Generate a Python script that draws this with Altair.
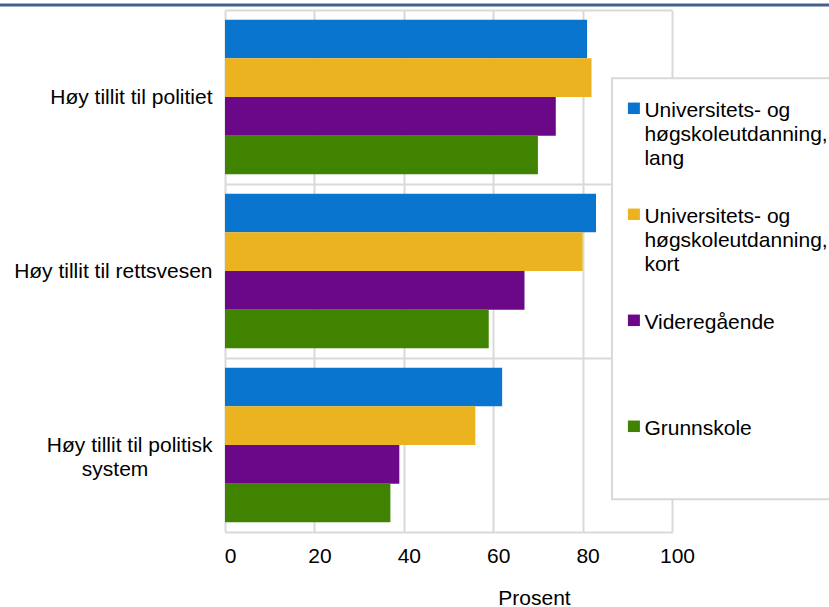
import altair as alt
import pandas as pd

# Survey shares (percent) with high trust, by education level
categories = [
    "Høy tillit til politiet",
    "Høy tillit til rettsvesen",
    "Høy tillit til politisk system",
]
series = [
    "Universitets- og høgskoleutdanning, lang",
    "Universitets- og høgskoleutdanning, kort",
    "Videregående",
    "Grunnskole",
]
values_lang = [81, 83, 62]
values_kort = [82, 80, 56]
values_vgs = [74, 67, 39]
values_grunn = [70, 59, 37]
colors = ["#0A75CF", "#EAB31F", "#6A0888", "#3F8300"]
x_ticks = [0, 20, 40, 60, 80, 100]

rows = []
for name, vals in zip(series, [values_lang, values_kort, values_vgs, values_grunn]):
    for cat, v in zip(categories, vals):
        rows.append({"Kategori": cat, "Utdanning": name, "Prosent": v})
df = pd.DataFrame(rows)

FONT = "Liberation Sans"
GRID = "#D9D9D9"
# non-breaking spaces plus a zero-width space so the padding survives trimming
PAD = "\u00a0" * 11 + "\u200b"

# long category names wrap onto two lines, second line centred under the first
y_label_expr = (
    "length(datum.label) > 26 ? ["
    "substring(datum.label, 0, lastindexof(datum.label, ' ')), "
    "substring(datum.label, lastindexof(datum.label, ' ') + 1) + '" + PAD + "'"
    "] : datum.label"
)
# legend labels wrap after "og" and after the comma; short ones keep three rows
legend_label_expr = (
    "indexof(datum.label, ',') >= 0 ? "
    "split(replace(replace(datum.label, '- og ', '- og|'), ', ', ',|'), '|') : "
    "[datum.label, '', '']"
)

# small square swatch, drawn beside the first line of each legend label
SWATCH = "M-1.2,0.47H1.2V2.77H-1.2Z"

bars = alt.Chart(df).mark_bar().encode(
    x=alt.X(
        "Prosent:Q",
        scale=alt.Scale(domain=[0, 100], nice=False),
        axis=alt.Axis(
            values=x_ticks,
            title="Prosent",
            grid=True,
            gridColor=GRID,
            gridWidth=2,
            domain=False,
            ticks=False,
            tickSize=0,
            labelFlush=False,
            labelPadding=13,
            labelOffset=5,
            labelFontSize=21,
            labelColor="#000000",
            titleFontSize=21,
            titleFontWeight="normal",
            titleColor="#000000",
            titleX=309,
            titleY=72,
            titleBaseline="alphabetic",
            titleAlign="center",
        ),
    ),
    y=alt.Y(
        "Kategori:N",
        sort=categories,
        scale=alt.Scale(paddingInner=0, paddingOuter=0),
        axis=alt.Axis(
            title=None,
            grid=True,
            gridColor=GRID,
            gridWidth=2,
            tickBand="extent",
            domain=False,
            ticks=False,
            tickSize=0,
            labelPadding=13,
            labelFontSize=21,
            labelColor="#000000",
            labelLimit=400,
            labelLineHeight=24,
            labelExpr=y_label_expr,
        ),
    ),
    yOffset=alt.YOffset(
        "Utdanning:N",
        sort=series,
        scale=alt.Scale(paddingInner=0, paddingOuter=0.25),
    ),
    color=alt.Color(
        "Utdanning:N",
        sort=series,
        scale=alt.Scale(domain=series, range=colors),
        legend=alt.Legend(
            title=None,
            orient="none",
            legendX=387,
            legendY=68.3,
            direction="vertical",
            padding=11.4,
            fillColor="white",
            strokeColor=GRID,
            symbolType=SWATCH,
            symbolSize=100,
            symbolStrokeWidth=0,
            labelBaseline="top",
            labelOffset=0,
            labelFontSize=21,
            labelColor="#000000",
            labelLimit=400,
            labelExpr=legend_label_expr,
            rowPadding=26,
            gridAlign="all",
        ),
    ),
)

# thin rule across the top of the figure
top_rule = alt.Chart(pd.DataFrame({"k": [0]})).mark_rule(
    color="#44618E", strokeWidth=3
).encode(x=alt.value(-225), x2=alt.value(604), y=alt.value(-5))

chart = (
    alt.layer(bars, top_rule)
    .properties(
        width=447,
        height=522,
        autosize=alt.AutoSizeParams(type="none"),
        padding={"left": 225, "top": 10, "right": 157, "bottom": 75},
        background="white",
    )
    .configure(font=FONT, style={"guide-label": {"lineHeight": 24}})
    .configure_view(stroke=None)
    .configure_legend(strokeWidth=2)
)

chart.save("out.html", embed_options={"renderer": "svg", "actions": False})
